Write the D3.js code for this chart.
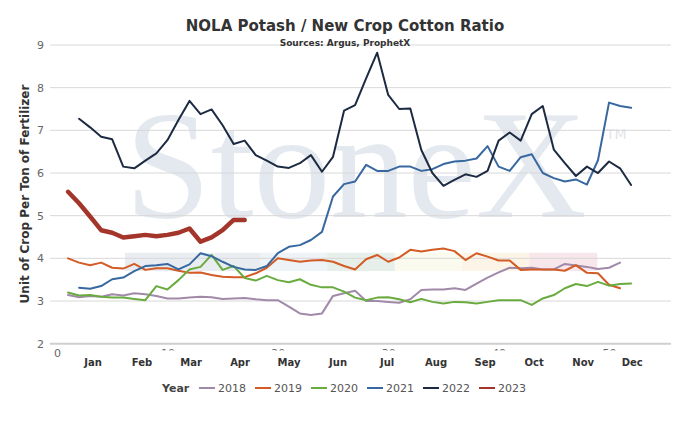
<!DOCTYPE html>
<html lang="en">
  <head>
    <meta charset="UTF-8" />
    <script src="https://d3js.org/d3.v7.min.js"></script>
    <style>
      body {
        margin: 0;
        background: #fff;
      }
      text {
        font-family: "DejaVu Sans", Verdana, sans-serif;
      }
    </style>
    <title>NOLA Potash / New Crop Cotton Ratio</title>
  </head>
  <body>
    <div id="my_dataviz"></div>

    <script>
      // weekly ratio values
      var years = ["2018", "2019", "2020", "2021", "2022", "2023"];
      var colors = ["#a18aa9", "#d25b26", "#6aab40", "#3868a0", "#1c2b42", "#a3352a"];
      var firstWeek = [1, 1, 1, 2, 2, 1];

      var v2018 = [3.14, 3.09, 3.12, 3.1, 3.16, 3.13, 3.18, 3.16, 3.12, 3.06, 3.06, 3.08, 3.1,
        3.09, 3.05, 3.06, 3.07, 3.04, 3.02, 3.02, 2.87, 2.71, 2.67, 2.71, 3.12, 3.18, 3.24,
        3.0, 3.0, 2.98, 2.96, 3.04, 3.26, 3.27, 3.27, 3.3, 3.26, 3.41, 3.55, 3.67, 3.78,
        3.77, 3.78, 3.74, 3.74, 3.87, 3.83, 3.8, 3.75, 3.78, 3.9];
      var v2019 = [4.0, 3.9, 3.84, 3.9, 3.78, 3.76, 3.87, 3.73, 3.77, 3.77, 3.71, 3.66, 3.67,
        3.61, 3.57, 3.56, 3.56, 3.65, 3.78, 4.0, 3.96, 3.92, 3.95, 3.96, 3.92, 3.82, 3.74,
        3.98, 4.08, 3.92, 4.02, 4.2, 4.16, 4.2, 4.23, 4.17, 3.96, 4.12, 4.04, 3.95, 3.95,
        3.73, 3.74, 3.74, 3.74, 3.71, 3.84, 3.66, 3.65, 3.38, 3.3];
      var v2020 = [3.2, 3.13, 3.14, 3.1, 3.08, 3.08, 3.05, 3.02, 3.35, 3.27, 3.49, 3.74, 3.8,
        4.08, 3.73, 3.82, 3.54, 3.48, 3.59, 3.49, 3.44, 3.51, 3.38, 3.32, 3.32, 3.22, 3.08,
        3.02, 3.08, 3.09, 3.04, 2.97, 3.05, 2.98, 2.94, 2.98, 2.97, 2.94, 2.98, 3.02, 3.02,
        3.02, 2.91, 3.06, 3.14, 3.3, 3.4, 3.35, 3.45, 3.36, 3.4, 3.41];
      var v2021 = [3.31, 3.29, 3.35, 3.51, 3.55, 3.7, 3.82, 3.84, 3.87, 3.74, 3.86, 4.12,
        4.05, 3.92, 3.8, 3.74, 3.73, 3.82, 4.12, 4.27, 4.31, 4.43, 4.62, 5.45, 5.74, 5.8,
        6.19, 6.05, 6.05, 6.15, 6.15, 6.05, 6.09, 6.21, 6.27, 6.29, 6.34, 6.63, 6.15, 6.05,
        6.37, 6.44, 6.0, 5.88, 5.8, 5.85, 5.73, 6.3, 7.65, 7.57, 7.53];
      var v2022 = [7.27, 7.07, 6.85, 6.79, 6.15, 6.11, 6.29, 6.46, 6.77, 7.24, 7.69, 7.38,
        7.49, 7.12, 6.68, 6.76, 6.42, 6.29, 6.15, 6.12, 6.23, 6.42, 6.03, 6.38, 7.46, 7.59,
        8.22, 8.82, 7.83, 7.5, 7.51, 6.54, 6.0, 5.7, 5.84, 5.97, 5.91, 6.05, 6.76, 6.95,
        6.76, 7.38, 7.57, 6.55, 6.23, 5.93, 6.15, 6.0, 6.27, 6.11, 5.72];
      var v2023 = [5.56, 5.29, 4.98, 4.66, 4.6, 4.49, 4.52, 4.55, 4.52, 4.55, 4.6, 4.7, 4.39,
        4.49, 4.66, 4.9, 4.9];
      var values = [v2018, v2019, v2020, v2021, v2022, v2023];

      var months = ["Jan", "Feb", "Mar", "Apr", "May", "Jun", "Jul", "Aug", "Sep", "Oct", "Nov", "Dec"];
      var yTicks = [2, 3, 4, 5, 6, 7, 8, 9];
      var weekTicks = [0, 10, 20, 30, 40, 50];

      // faint colour band behind the lines (part of the watermark)
      var bandColors = ["#e9edf2", "#e9edf2", "#eef3f8", "#e7efea", "#fafaee", "#fdf4e8", "#f7e6ea"];

      var width = 696,
        height = 421;
      var plotLeft = 50,
        plotRight = 671;

      var x = d3.scaleLinear().domain([0, 52]).range([57, 631.1]);
      var y = d3.scaleLinear().domain([2, 9]).range([343.7, 45]);

      var svg = d3
        .select("#my_dataviz")
        .append("svg")
        .attr("width", width)
        .attr("height", height);

      // band
      var bandX = d3.scaleLinear().domain([0, 7]).range([125, 596.8]);
      svg
        .selectAll(".band")
        .data(bandColors)
        .enter()
        .append("rect")
        .attr("x", (d, i) => bandX(i))
        .attr("width", bandX(1) - bandX(0) + 0.5)
        .attr("y", y(4) - 5.6)
        .attr("height", 18.3)
        .attr("fill", (d) => d);

      // watermark
      svg
        .append("text")
        .attr("x", 125)
        .attr("y", 217)
        .style("font-family", "'Liberation Serif', 'DejaVu Serif', serif")
        .style("font-size", "154px")
        .attr("fill", "#e4e8ef")
        .text("StoneX");
      svg
        .append("text")
        .attr("x", 606)
        .attr("y", 139)
        .style("font-size", "14px")
        .attr("fill", "#e3e6eb")
        .text("TM");

      // grid
      svg
        .append("g")
        .selectAll("line")
        .data(yTicks)
        .enter()
        .append("line")
        .attr("x1", plotLeft)
        .attr("x2", plotRight)
        .attr("y1", (d) => y(d))
        .attr("y2", (d) => y(d))
        .attr("stroke", (d) => (d === 2 ? "#cfcfcf" : "#d8d8d8"))
        .attr("stroke-width", (d) => (d === 2 ? 2 : 1));

      // y labels
      svg
        .append("g")
        .selectAll("text")
        .data(yTicks)
        .enter()
        .append("text")
        .attr("x", 44)
        .attr("y", (d) => y(d) + 4)
        .attr("text-anchor", "end")
        .style("font-size", "11px")
        .attr("fill", "#666")
        .text((d) => d);

      // week numbers: "0" shows fully, the rest sit under the month row
      svg
        .append("clipPath")
        .attr("id", "weekclip")
        .append("rect")
        .attr("x", 63)
        .attr("y", 346)
        .attr("width", plotRight)
        .attr("height", 4.6);

      var weekAxis = (ticks) => (g) =>
        g
          .attr("transform", "translate(0," + 343 + ")")
          .call(d3.axisBottom(x).tickValues(ticks).tickSize(0).tickPadding(6))
          .call((g) => g.select(".domain").remove())
          .call((g) => g.selectAll("text").style("font-size", "11px").attr("fill", "#666"));
      svg.append("g").call(weekAxis(weekTicks.slice(0, 1)));
      svg
        .append("g")
        .attr("clip-path", "url(#weekclip)")
        .append("g")
        .call(weekAxis(weekTicks.slice(1)));

      // month labels
      var monthX = d3.scalePoint().domain(months).range([x(3.26), x(52.1)]);
      svg
        .append("g")
        .selectAll("text")
        .data(months)
        .enter()
        .append("text")
        .attr("x", (d) => monthX(d))
        .attr("y", 366)
        .attr("text-anchor", "middle")
        .style("font-size", "10px")
        .style("font-weight", "bold")
        .attr("fill", "#333")
        .text((d) => d);

      // lines
      var line = d3
        .line()
        .x((d) => x(d.week))
        .y((d) => y(d.value));

      var series = years.map((yr, i) => ({
        year: yr,
        color: colors[i],
        points: values[i].map((v, j) => ({ week: firstWeek[i] + j, value: v })),
      }));

      svg
        .append("g")
        .selectAll("path")
        .data(series)
        .enter()
        .append("path")
        .attr("d", (d) => line(d.points))
        .attr("fill", "none")
        .attr("stroke", (d) => d.color)
        .attr("stroke-width", (d) => (d.year === "2023" ? 4.5 : 2))
        .attr("stroke-linejoin", "round")
        .attr("stroke-linecap", "round");

      // title
      svg
        .append("text")
        .attr("x", 345)
        .attr("y", 31)
        .attr("text-anchor", "middle")
        .style("font-size", "15px")
        .style("font-weight", "bold")
        .attr("fill", "#333")
        .text("NOLA Potash / New Crop Cotton Ratio");
      svg
        .append("text")
        .attr("x", 345)
        .attr("y", 46)
        .attr("text-anchor", "middle")
        .style("font-size", "9px")
        .style("font-weight", "bold")
        .attr("fill", "#333")
        .text("Sources: Argus, ProphetX");

      // y title
      svg
        .append("text")
        .attr("transform", "translate(29,194)rotate(-90)")
        .attr("text-anchor", "middle")
        .style("font-size", "12px")
        .style("font-weight", "bold")
        .attr("fill", "#333")
        .text("Unit of Crop Per Ton of Fertilizer");

      // legend
      var legend = svg.append("g").attr("transform", "translate(0,388)");
      legend
        .append("text")
        .attr("x", 162)
        .attr("y", 4)
        .style("font-size", "11px")
        .style("font-weight", "bold")
        .attr("fill", "#444")
        .text("Year");
      var item = legend
        .selectAll(".item")
        .data(series)
        .enter()
        .append("g")
        .attr("transform", (d, i) => "translate(" + (199 + i * 56) + ",0)");
      item
        .append("line")
        .attr("x1", 0)
        .attr("x2", 16)
        .attr("stroke", (d) => d.color)
        .attr("stroke-width", 2);
      item
        .append("text")
        .attr("x", 19)
        .attr("y", 4)
        .style("font-size", "11px")
        .attr("fill", "#555")
        .text((d) => d.year);
    </script>
  </body>
</html>
